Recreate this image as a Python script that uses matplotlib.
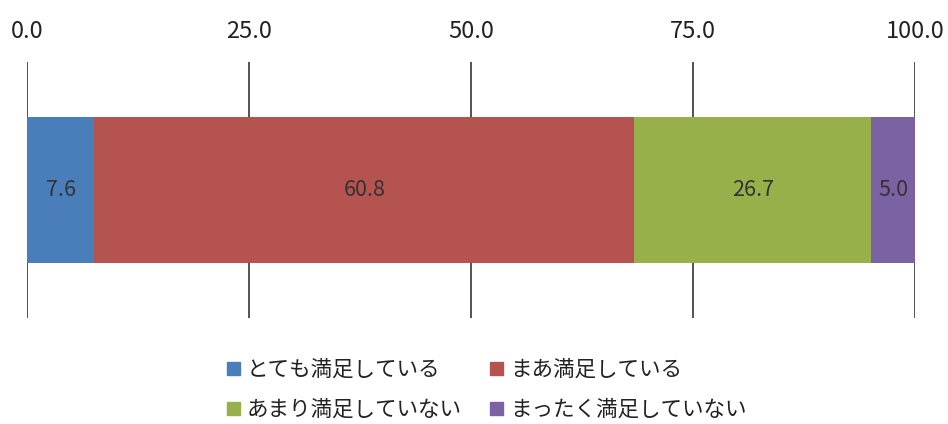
import matplotlib.pyplot as plt
import matplotlib.patches as mpatches

plt.rcParams['font.family'] = ['Noto Sans CJK JP', 'DejaVu Sans']

# answer categories and shares (%)
categories = ['とても満足している', 'まあ満足している', 'あまり満足していない', 'まったく満足していない']
values = [7.6, 60.8, 26.7, 5.0]
colors = ['#4a7ebb', '#b4534f', '#98b049', '#7b62a3']
tick_values = [0, 25, 50, 75, 100]
tick_labels = ['0.0', '25.0', '50.0', '75.0', '100.0']

fig = plt.figure(figsize=(9.48, 4.24), dpi=100)
ax = fig.add_axes([27 / 948, 1 - 318 / 424, (915 - 27) / 948, (318 - 62) / 424])

# stacked bar
left = 0
for val, col in zip(values, colors):
	ax.barh(0, val, left=left, height=0.57, color=col, zorder=3)
	ax.text(left + val / 2, 0, '{0:.1f}'.format(val), ha='center', va='center',
		fontsize=15.5, color='#333333', zorder=4)
	left += val

# vertical grid lines
for x in tick_values:
	ax.axvline(x, color='#444444', linewidth=1.3, zorder=1)

ax.set_xlim(0, 100)
ax.set_ylim(-0.5, 0.5)
ax.xaxis.tick_top()
ax.set_xticks(tick_values)
ax.set_xticklabels(tick_labels, fontsize=17, color='#222222')
ax.tick_params(axis='x', length=0, pad=14)
ax.set_yticks([])
for s in ax.spines.values():
	s.set_visible(False)

# legend, two aligned columns
leg_x = [227, 490, 227, 490]
leg_y = [370, 370, 410, 410]
for h_x, h_y, c, l in zip(leg_x, leg_y, colors, categories):
	fig.legend(handles=[mpatches.Patch(color=c, label=l)], loc='center left',
		bbox_to_anchor=(h_x / 948, 1 - h_y / 424), frameon=False, fontsize=15.5,
		handlelength=0.6, handleheight=0.6, handletextpad=0.32, borderpad=0,
		borderaxespad=0, labelcolor='#222222')

fig.savefig('out.png', dpi=100)
